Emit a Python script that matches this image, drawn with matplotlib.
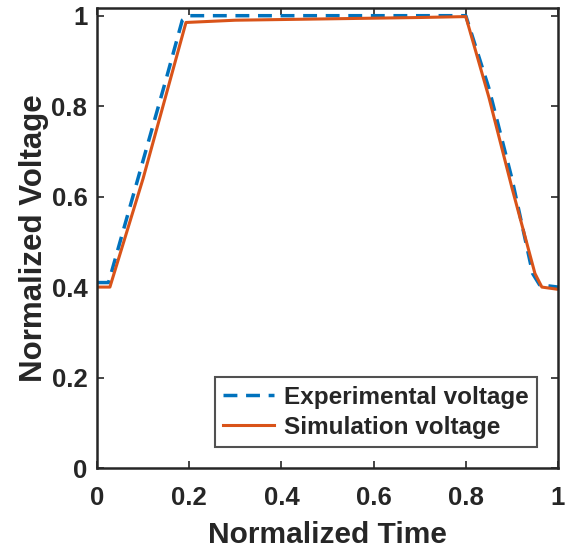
import matplotlib
matplotlib.use("Agg")
import matplotlib.pyplot as plt

# Experimental voltage (dashed)
exp_t = [0.0, 0.025, 0.05, 0.10, 0.15, 0.185, 0.20, 0.30, 0.50, 0.70, 0.80, 0.85, 0.90, 0.945, 0.96, 1.0]
exp_v = [0.41, 0.41, 0.50, 0.68, 0.86, 0.99, 1.0, 1.0, 1.0, 1.0, 1.0, 0.84, 0.64, 0.43, 0.405, 0.40]

# Simulation voltage (solid)
sim_t = [0.0, 0.028, 0.10, 0.193, 0.30, 0.50, 0.70, 0.80, 0.85, 0.90, 0.95, 0.965, 1.0]
sim_v = [0.40, 0.40, 0.64, 0.985, 0.99, 0.993, 0.996, 0.998, 0.82, 0.62, 0.43, 0.40, 0.395]

xticks = [0, 0.2, 0.4, 0.6, 0.8, 1]
yticks = [0, 0.2, 0.4, 0.6, 0.8, 1]
tick_labels = ["0", "0.2", "0.4", "0.6", "0.8", "1"]

plt.rcParams["font.family"] = ["Liberation Sans", "DejaVu Sans"]
plt.rcParams["font.weight"] = "bold"

fig = plt.figure(figsize=(5.66, 5.49), dpi=100)
ax = fig.add_axes([97 / 566, 1 - 468 / 549, 461 / 566, 460 / 549])

ax.plot(exp_t, exp_v, color="#0072BD", linestyle=(0, (4, 2.5)), linewidth=2.5,
        label="Experimental voltage")
ax.plot(sim_t, sim_v, color="#D95319", linewidth=2.2, label="Simulation voltage")

ax.set_xlim(0, 1)
ax.set_ylim(0, 1.017)
ax.set_xticks(xticks)
ax.set_xticklabels(tick_labels)
ax.set_yticks(yticks)
ax.set_yticklabels(tick_labels)
ax.tick_params(direction="in", top=True, right=True, length=5, width=1.2,
               labelsize=18.5, colors="#262626")
ax.tick_params(axis="x", pad=13)
ax.tick_params(axis="y", pad=7)
for s in ax.spines.values():
    s.set_linewidth(1.8)
    s.set_color("#262626")

ax.set_xlabel("Normalized Time", fontsize=21.5, fontweight="bold", color="#262626", labelpad=8)
ax.set_ylabel("Normalized Voltage", fontsize=22.5, fontweight="bold", color="#262626", labelpad=2)

leg = ax.legend(loc="lower right", fontsize=17.5, frameon=True, fancybox=False,
                edgecolor="#262626", handlelength=2.1, borderpad=0.35,
                labelspacing=0.3, handletextpad=0.4, borderaxespad=0.85)
leg.get_frame().set_linewidth(1.5)
for t in leg.get_texts():
    t.set_color("#262626")

fig.savefig("out.png", dpi=100)
